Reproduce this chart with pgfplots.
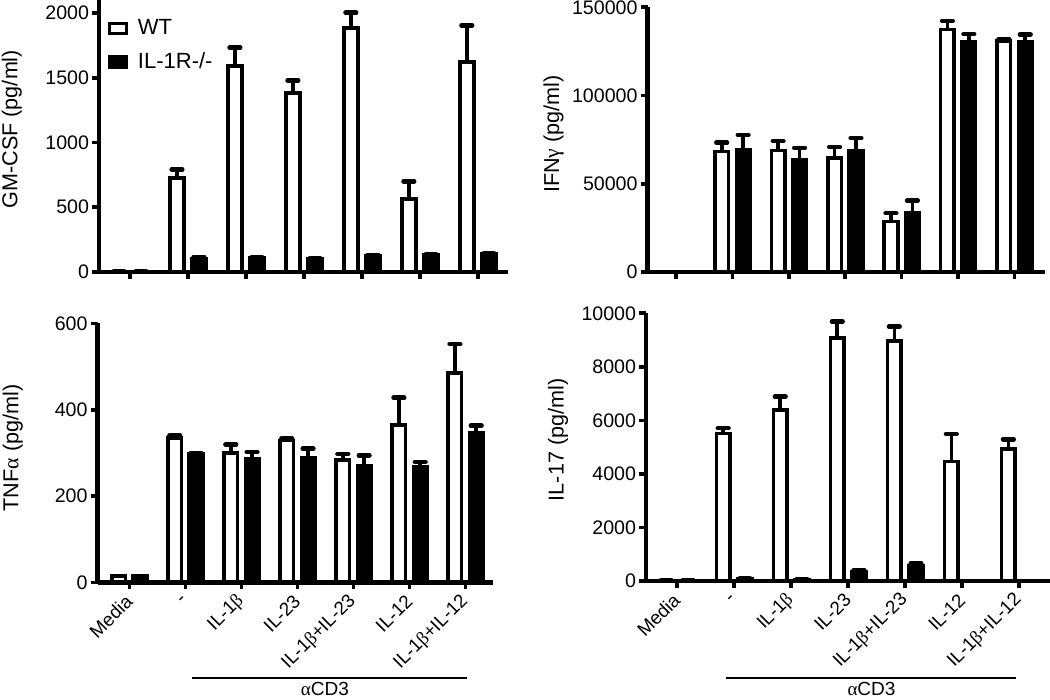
\documentclass[border=0pt]{standalone}
\usepackage{fontspec}
\setmainfont{Liberation Sans}
\newfontfamily\grk{Liberation Serif}
\usepackage{pgfplots}
\usepackage{pgfplotstable}
\pgfplotsset{compat=1.18}

% columns: x, WT mean, WT error, IL-1R-/- mean, error
\pgfplotstableread{
x wt wte ko koe
0 5 0 5 0
1 726 65 104 13
2 1590 143 109 5
3 1380 99 99 5
4 1886 117 125 8
5 565 135 130 5
6 1621 283 137 5
}\gmcsf
\pgfplotstableread{
x wt wte ko koe
0 0 0 0 0
1 68200 5100 69300 8400
2 68900 5300 63600 6800
3 64700 6100 68700 7100
4 28600 4700 33300 7100
5 137400 5000 130600 4200
6 131000 900 130600 4000
}\ifng
\pgfplotstableread{
x wt wte ko koe
0 15 0 15 0
1 335 5 298 2
2 300 19 287 15
3 329 4 288 22
4 283 15 271 23
5 365 63 267 12
6 485 67 346 17
}\tnfa
\pgfplotstableread{
x wt wte ko koe
0 20 0 20 0
1 5517 187 87 0
2 6389 498 62 0
3 9066 623 349 62
4 8966 536 560 100
5 4458 1034 10 0
6 4932 361 10 0
}\ilsev

\newcommand{\lblfont}{\fontsize{9.4}{10}\selectfont}
\pgfplotsset{
  panel/.style={
    scale only axis, anchor=south west,
    axis lines*=left, axis on top, clip=false,
    axis line style={line width=2.3pt, black},
    ybar, bar width=0.24, ymin=0,
    xtick={0,...,6},
    tick align=outside,
    major tick length=3.3pt,
    tick style={line width=1.8pt, black},
    yticklabel={\pgfmathprintnumber[fixed, precision=0, assume math mode=true, 1000 sep={}]{\tick}},
    yticklabel style={font=\fontsize{9.8}{11}\selectfont, inner sep=1.5pt},
    scaled y ticks=false,
    ylabel style={font=\fontsize{10.8}{12}\selectfont, anchor=center},
  },
  errstyle/.style={error bars/.cd, y dir=plus, y explicit,
    error bar style={line width=1.8pt, black},
    error mark options={rotate=90, line width=2.2pt, mark size=2.7pt, black, line cap=round}},
  wtbar/.style={draw=black, fill=white, line width=1.8pt, bar shift=-0.19, errstyle},
  kobar/.style={draw=black, fill=black, line width=1.8pt, bar shift=0.19, errstyle},
  botlabels/.style={
    xticklabels={{Media},{-},{IL-1\grk β},{IL-23},{IL-1{\grk β}+IL-23},{IL-12},{IL-1{\grk β}+IL-12}},
    xticklabel style={yshift=-3.5pt, xshift=1pt, rotate=45, anchor=east, font=\lblfont, inner sep=1.5pt},
  },
}

\begin{document}
\begin{tikzpicture}
\path[use as bounding box] (0,0) rectangle (525pt,350pt);

% GM-CSF
\begin{axis}[panel, at={(49.5pt,214pt)}, width=204.5pt, height=136pt,
  xmin=-0.534, xmax=6.52, ymax=2100, ytick={0,500,1000,1500,2000},
  xticklabels={},
  ylabel={GM-CSF (pg/ml)},
  ylabel style={at={(axis description cs:-0.213,0.525)}},
  legend style={at={(rel axis cs:0.02,0.944)}, anchor=north west, draw=none, fill=none,
    font=\fontsize{11}{12}\selectfont, inner sep=0pt, row sep=3.5pt,
    legend cell align=left,
    /tikz/every odd column/.append style={column sep=3pt}},
  legend image code/.code={\draw[#1, line width=1.6pt] (0pt,-2.6pt) rectangle (8.6pt,2.6pt);},
]
\addplot[wtbar] table[x=x, y=wt, y error=wte] {\gmcsf};
\addplot[kobar] table[x=x, y=ko, y error=koe] {\gmcsf};
\legend{WT, IL-1R-/-}
\end{axis}

% IFN-gamma
\begin{axis}[panel, at={(323.75pt,214pt)}, width=198.75pt, height=132.35pt,
  xmin=-0.505, xmax=6.54, ymax=150000, ytick={0,50000,100000,150000},
  xticklabels={},
  ylabel={IFN{\grk γ} (pg/ml)},
  ylabel style={at={(axis description cs:-0.236,0.521)}},
]
\addplot[wtbar] table[x=x, y=wt, y error=wte] {\ifng};
\addplot[kobar] table[x=x, y=ko, y error=koe] {\ifng};
\end{axis}

% TNF-alpha
\begin{axis}[panel, botlabels, at={(48.75pt,58.75pt)}, width=197.75pt, height=129.6pt,
  xmin=-0.568, xmax=6.49, ymax=600, ytick={0,200,400,600},
  ylabel={TNF{\grk α} (pg/ml)},
  ylabel style={at={(axis description cs:-0.214,0.519)}},
]
\addplot[wtbar] table[x=x, y=wt, y error=wte] {\tnfa};
\addplot[kobar] table[x=x, y=ko, y error=koe] {\tnfa};
\draw[line width=1pt] (axis cs:1.12,-221) -- (axis cs:6.03,-221);
\node[font=\fontsize{9.5}{11}\selectfont] at (axis cs:3.49,-246.5) {{\grk α}CD3};
\end{axis}

% IL-17
\begin{axis}[panel, botlabels, at={(323pt,59.5pt)}, width=202pt, height=133.85pt,
  xmin=-0.544, xmax=6.54, ymax=10000, ytick={0,2000,4000,6000,8000,10000},
  ylabel={IL-17 (pg/ml)},
  ylabel style={at={(axis description cs:-0.218,0.527)}},
]
\addplot[wtbar] table[x=x, y=wt, y error=wte] {\ilsev};
\addplot[kobar] table[x=x, y=ko, y error=koe] {\ilsev};
\draw[line width=1pt] (axis cs:0.86,-3623) -- (axis cs:5.94,-3623);
\node[font=\fontsize{9.5}{11}\selectfont] at (axis cs:3.41,-4034) {{\grk α}CD3};
\end{axis}
\end{tikzpicture}
\end{document}
